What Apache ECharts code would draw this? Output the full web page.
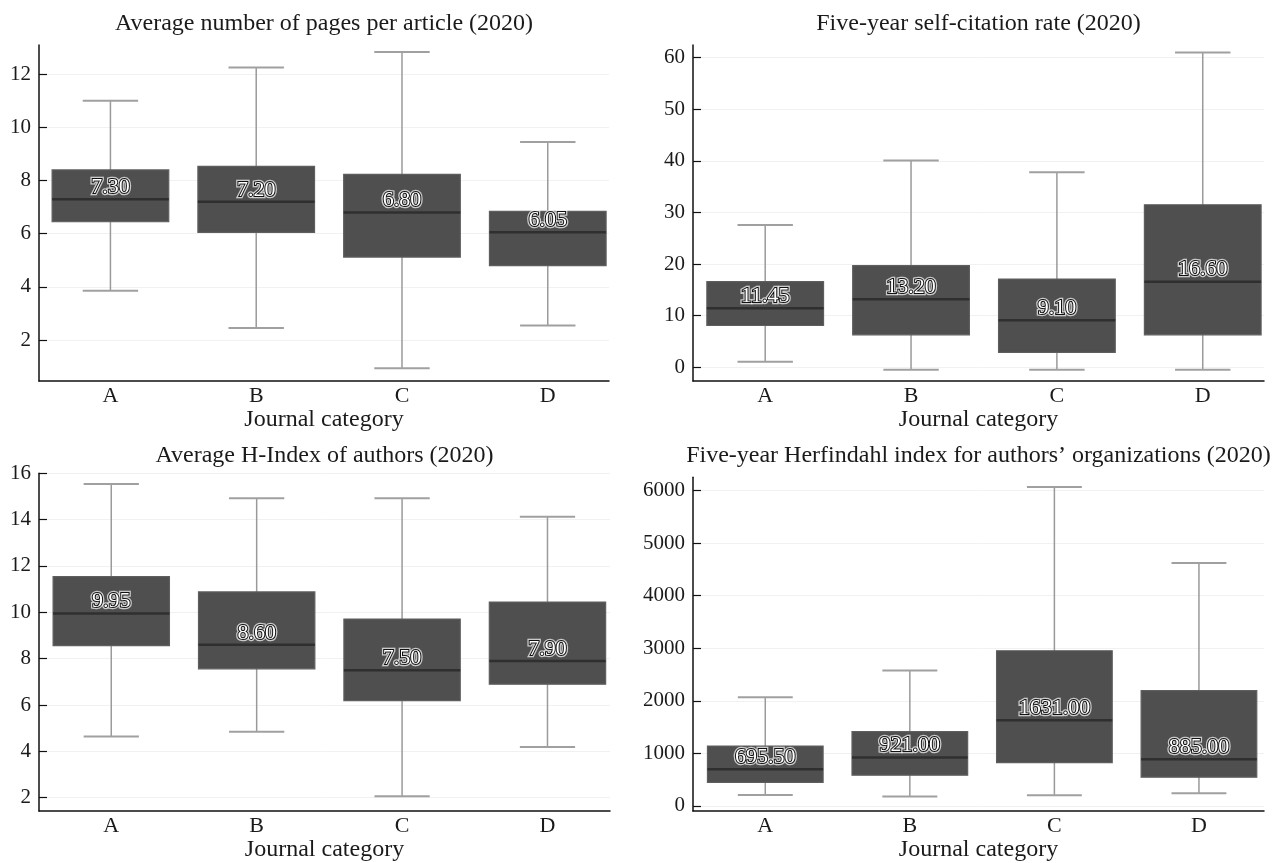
<!DOCTYPE html>
<html>
<head>
<meta charset="utf-8">
<title>Journal category statistics (2020)</title>
<script src="https://cdn.jsdelivr.net/npm/echarts@6/dist/echarts.min.js"></script>
<style>
  html, body { margin: 0; padding: 0; background: #ffffff; }
  #chart { width: 1279px; height: 863px; }
</style>
</head>
<body>
<div id="chart"></div>
<script>
// Journal categories on every x axis
const categories = ['A', 'B', 'C', 'D'];

// Box statistics per category: [lower whisker, Q1, median, Q3, upper whisker]
const pagesBoxes = [
  [3.85, 6.45, 7.30, 8.40, 11.00],
  [2.45, 6.05, 7.20, 8.53, 12.25],
  [0.94, 5.12, 6.80, 8.23, 12.84],
  [2.55, 4.80, 6.05, 6.84, 9.45]
];
const selfCitationBoxes = [
  [1.1, 8.1, 11.45, 16.6, 27.6],
  [-0.45, 6.3, 13.20, 19.7, 40.1],
  [-0.45, 2.9, 9.10, 17.1, 37.8],
  [-0.45, 6.3, 16.60, 31.5, 61.0]
];
const hIndexBoxes = [
  [4.64, 8.56, 9.95, 11.54, 15.54],
  [4.85, 7.56, 8.60, 10.88, 14.92],
  [2.06, 6.19, 7.50, 9.71, 14.92],
  [4.19, 6.90, 7.90, 10.44, 14.12]
];
const herfindahlBoxes = [
  [207, 446, 695.50, 1137, 2067],
  [176, 584, 921.00, 1413, 2575],
  [201, 823, 1631.00, 2952, 6068],
  [239, 546, 885.00, 2192, 4623]
];

// Tick labels on the value axes
const pagesTicks = [2, 4, 6, 8, 10, 12];
const selfCitationTicks = [0, 10, 20, 30, 40, 50, 60];
const hIndexTicks = [2, 4, 6, 8, 10, 12, 14, 16];
const herfindahlTicks = [0, 1000, 2000, 3000, 4000, 5000, 6000];

const panelTitles = [
  'Average number of pages per article (2020)',
  'Five-year self-citation rate (2020)',
  'Average H-Index of authors (2020)',
  'Five-year Herfindahl index for authors\u2019 organizations (2020)'
];
const xAxisTitle = 'Journal category';

const SERIF = "'Liberation Serif', 'Times New Roman', Times, serif";

const panels = [
  { boxes: pagesBoxes, ticks: pagesTicks, yMin: 0.457, yMax: 13.1, xMin: -0.49, xMax: 3.42,
    grid: { left: 39, top: 45, width: 570, height: 336 }, titleTop: 11.5 },
  { boxes: selfCitationBoxes, ticks: selfCitationTicks, yMin: -2.65, yMax: 62.46, xMin: -0.495, xMax: 3.42,
    grid: { left: 693, top: 45, width: 571, height: 336 }, titleTop: 11.5 },
  { boxes: hIndexBoxes, ticks: hIndexTicks, yMin: 1.42, yMax: 16, xMin: -0.497, xMax: 3.43,
    grid: { left: 39, top: 473.3, width: 571, height: 340.3 }, titleTop: 444 },
  { boxes: herfindahlBoxes, ticks: herfindahlTicks, yMin: -100, yMax: 6253, xMin: -0.5, xMax: 3.45,
    grid: { left: 693, top: 477.3, width: 571, height: 337 }, titleTop: 444 }
];

// Draws one box: whisker, caps, box body, median line and the median label
function renderBox(params, api) {
  const x = api.value(0);
  const low = api.value(1), q1 = api.value(2), med = api.value(3), q3 = api.value(4), high = api.value(5);
  const boxHalf = 0.40, capHalf = 0.19;

  const topLeft = api.coord([x - boxHalf, q3]);
  const bottomRight = api.coord([x + boxHalf, q1]);
  const medL = api.coord([x - boxHalf, med]);
  const medR = api.coord([x + boxHalf, med]);
  const hi = api.coord([x, high]);
  const lo = api.coord([x, low]);
  const capHiL = api.coord([x - capHalf, high]);
  const capHiR = api.coord([x + capHalf, high]);
  const capLoL = api.coord([x - capHalf, low]);
  const capLoR = api.coord([x + capHalf, low]);

  const whiskerStyle = { stroke: '#9a9a9a', lineWidth: 1.5 };
  const capStyle = { stroke: '#a0a0a0', lineWidth: 2 };
  const labelText = med.toFixed(2);
  const font = '22px ' + SERIF;
  const cx = medL[0] + (medR[0] - medL[0]) / 2;

  return {
    type: 'group',
    children: [
      { type: 'line', shape: { x1: hi[0], y1: hi[1], x2: lo[0], y2: lo[1] }, style: whiskerStyle },
      { type: 'line', shape: { x1: capHiL[0], y1: capHiL[1], x2: capHiR[0], y2: capHiR[1] }, style: capStyle },
      { type: 'line', shape: { x1: capLoL[0], y1: capLoL[1], x2: capLoR[0], y2: capLoR[1] }, style: capStyle },
      { type: 'rect',
        shape: { x: topLeft[0], y: topLeft[1], width: bottomRight[0] - topLeft[0], height: bottomRight[1] - topLeft[1] },
        style: { fill: '#4f4f4f', stroke: '#5e5e5e', lineWidth: 1.2 } },
      { type: 'line', shape: { x1: medL[0], y1: medL[1], x2: medR[0], y2: medR[1] },
        style: { stroke: '#2f2f2f', lineWidth: 2.5 } },
      { type: 'text', x: cx, y: medL[1] - 12,
        style: { text: labelText, font: font, align: 'center', verticalAlign: 'middle',
                 fill: 'rgba(0,0,0,0)', stroke: 'rgba(255,255,255,0.7)', lineWidth: 4.5 } },
      { type: 'text', x: cx, y: medL[1] - 12,
        style: { text: labelText, font: font, align: 'center', verticalAlign: 'middle',
                 fill: '#ffffff', stroke: '#111111', lineWidth: 2 } }
    ]
  };
}

const option = {
  backgroundColor: '#ffffff',
  animation: false,
  title: [],
  grid: [],
  xAxis: [],
  yAxis: [],
  series: []
};

panels.forEach(function (p, i) {
  option.grid.push(p.grid);
  option.title.push({
    text: panelTitles[i],
    left: p.grid.left + p.grid.width / 2,
    top: p.titleTop,
    textAlign: 'center',
    padding: 0,
    textStyle: { fontFamily: SERIF, fontSize: 24, fontWeight: 'normal', color: '#1a1a1a', lineHeight: 24 }
  });
  option.xAxis.push({
    type: 'value',
    gridIndex: i,
    min: p.xMin,
    max: p.xMax,
    name: xAxisTitle,
    nameLocation: 'middle',
    nameGap: 26,
    nameTextStyle: { fontFamily: SERIF, fontSize: 24, color: '#1a1a1a' },
    axisLine: { show: true, onZero: false, lineStyle: { color: '#111', width: 1.5 } },
    axisTick: { show: false },
    splitLine: { show: false },
    axisLabel: {
      customValues: [0, 1, 2, 3],
      formatter: function (v) { return categories[Math.round(v)] || ''; },
      fontFamily: SERIF, fontSize: 22, color: '#1a1a1a', margin: 4
    }
  });
  option.yAxis.push({
    type: 'value',
    gridIndex: i,
    min: p.yMin,
    max: p.yMax,
    axisLine: { show: true, onZero: false, lineStyle: { color: '#111', width: 1.5 } },
    axisTick: { show: true, inside: true, length: 8, customValues: p.ticks, lineStyle: { color: '#111', width: 1.2 } },
    splitLine: { show: true, lineStyle: { color: '#f1f1f1', width: 1 } },
    axisLabel: {
      customValues: p.ticks,
      formatter: function (v) { return String(v); },
      fontFamily: SERIF, fontSize: 21, color: '#1a1a1a', margin: 8
    }
  });
  option.series.push({
    type: 'custom',
    xAxisIndex: i,
    yAxisIndex: i,
    renderItem: renderBox,
    encode: { x: 0, y: [1, 2, 3, 4, 5] },
    data: p.boxes.map(function (b, k) { return [k].concat(b); }),
    silent: true,
    clip: false
  });
});

const chart = echarts.init(document.getElementById('chart'), null, { renderer: 'canvas' });
chart.setOption(option);
</script>
</body>
</html>
